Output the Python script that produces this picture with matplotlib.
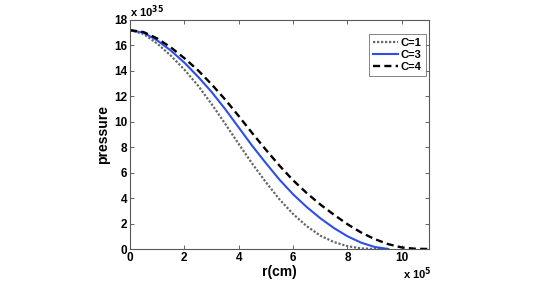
import matplotlib
matplotlib.use("Agg")
import matplotlib.pyplot as plt

# r in units of 1e5 cm, pressure in units of 1e35
r1 = [0, 0.5, 1.0, 1.5, 2.0, 2.5, 3.0, 3.5, 4.0, 4.5, 5.0, 5.5, 6.0, 6.5, 7.0, 7.5, 8.0, 8.5, 9.0, 9.5]
p1 = [17.2, 16.9, 16.15, 15.2, 14.1, 12.85, 11.4, 9.85, 8.25, 6.7, 5.25, 3.9, 2.75, 1.8, 1.05, 0.55, 0.22, 0.05, 0.0, 0.0]

r3 = [0, 0.5, 1.0, 1.5, 2.0, 2.5, 3.0, 3.5, 4.0, 4.5, 5.0, 5.5, 6.0, 6.5, 7.0, 7.5, 8.0, 8.5, 9.0, 9.5]
p3 = [17.2, 17.0, 16.4, 15.6, 14.65, 13.55, 12.35, 11.0, 9.55, 8.1, 6.75, 5.45, 4.3, 3.3, 2.42, 1.65, 1.0, 0.5, 0.16, 0.0]

r4 = [0, 0.5, 1.0, 1.5, 2.0, 2.5, 3.0, 3.5, 4.0, 4.5, 5.0, 5.5, 6.0, 6.5, 7.0, 7.5, 8.0, 8.5, 9.0, 9.5, 10.0, 10.5, 11.0]
p4 = [17.2, 17.05, 16.55, 15.85, 15.0, 14.05, 12.95, 11.75, 10.45, 9.1, 7.8, 6.55, 5.4, 4.4, 3.5, 2.7, 1.95, 1.3, 0.78, 0.38, 0.12, 0.02, 0.0]

labels = ["C=1", "C=3", "C=4"]
xticks = [0, 2, 4, 6, 8, 10]
yticks = [0, 2, 4, 6, 8, 10, 12, 14, 16, 18]

plt.rcParams['font.family'] = ['Liberation Sans', 'DejaVu Sans']
plt.rcParams['font.weight'] = 'bold'

fig = plt.figure(figsize=(5.45, 2.81), dpi=100)
ax = fig.add_axes([130/545, 1-249/281, 299/545, 229/281])

ax.plot(r1, p1, color='0.4', linestyle=(0, (1, 0.8)), lw=1.6, label=labels[0])
ax.plot(r3, p3, color='#2d4fe8', linestyle='-', lw=1.5, label=labels[1])
ax.plot(r4, p4, color='black', linestyle=(0, (3, 1.8)), lw=1.7, label=labels[2])

ax.set_xlim(0, 11)
ax.set_ylim(0, 18)
ax.set_xticks(xticks)
ax.set_yticks(yticks)
ax.set_xticklabels([str(t) for t in xticks], fontsize=8.5, fontweight='bold')
ax.set_yticklabels([str(t) for t in yticks], fontsize=8.5, fontweight='bold')
ax.tick_params(direction='in', top=True, right=True, length=3, width=0.6, color='0.3', pad=2)
for s in ax.spines.values():
    s.set_color('0.35')
    s.set_linewidth(0.8)

ax.set_xlabel('r(cm)', fontsize=10, fontweight='bold', labelpad=1)
ax.set_ylabel('pressure', fontsize=10, fontweight='bold', labelpad=3)

fig.text(130/545, 1-12/281, r'x 10$^{35}$', fontsize=8, fontweight='bold', ha='left', va='center')
fig.text(403/545, 1-274/281, r'x 10$^{5}$', fontsize=8, fontweight='bold', ha='left', va='center')

leg = ax.legend(loc='upper right', bbox_to_anchor=(1.0, 0.955), frameon=True, fancybox=False,
                edgecolor='0.3', handlelength=2.2, handletextpad=0.3, borderpad=0.35,
                labelspacing=0.2, borderaxespad=0.3, prop={'weight': 'bold', 'size': 8})
leg.get_frame().set_linewidth(0.6)

fig.savefig('out.png', dpi=100)
